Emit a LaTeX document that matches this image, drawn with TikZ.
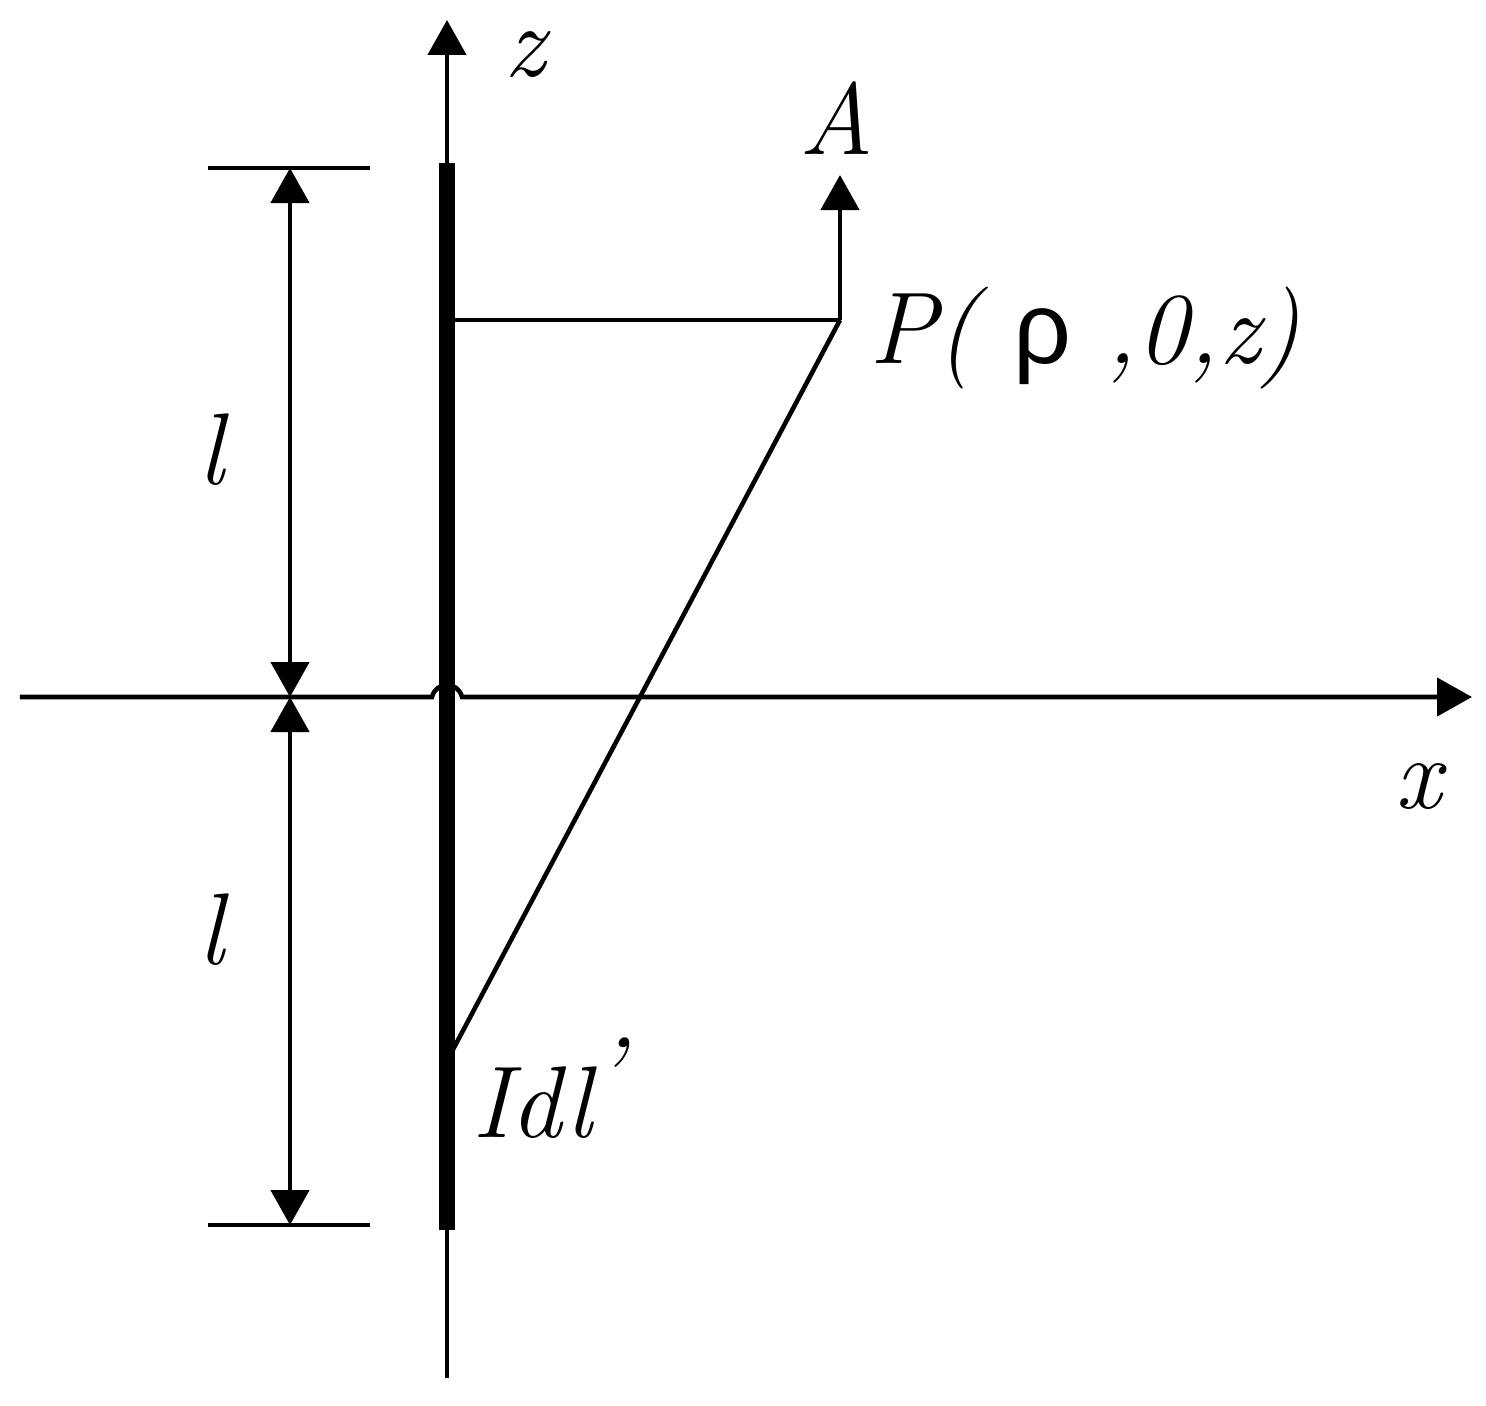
\documentclass[tikz,border=0pt]{standalone}
\usepackage{fontspec}
\newfontfamily\rhofont{Liberation Sans}
\usetikzlibrary{arrows.meta}
\usetikzlibrary{positioning}

\begin{document}
\begin{tikzpicture}[line width = 1.3pt,
  tip/.style = {-{Triangle[length = 3.5mm, width = 3.8mm]}},
  dim/.style = {{Triangle[length = 3.5mm, width = 3.8mm]}-{Triangle[length = 3.5mm, width = 3.8mm]}},
  lbl/.style = {font = \fontsize{29}{34}\selectfont\itshape, inner sep = 0pt}]
\useasboundingbox (-4.47, -7.08) rectangle (10.39, 6.97);

\coordinate (O) at (0, 0);
\coordinate (zB) at (0, -6.81);
\coordinate (zT) at (0, 6.77);
\coordinate (xL) at (-4.27, 0);
\coordinate (xR) at (10.25, 0);
\coordinate (hL) at (-0.15, 0);
\coordinate (hR) at (0.15, 0);
\draw[tip] (zB) -- (zT);
\draw[tip] (xL) -- (hL) .. controls (-0.11, 0.16) and (0.11, 0.16) .. (hR) -- (xR);

% wire
\coordinate (wT) at (0, 5.34);
\coordinate (wB) at (0, -5.33);
\draw[line width = 4.3pt] (wT) -- (wB);

% length marks
\coordinate (tL) at (-2.39, 5.29);
\coordinate (tR) at (-0.77, 5.29);
\coordinate (bL) at (-2.39, -5.28);
\coordinate (bR) at (-0.77, -5.28);
\draw (tL) -- (tR);
\draw (bL) -- (bR);
\coordinate (dT) at (-1.57, 5.29);
\coordinate (dM) at (-1.57, 0);
\coordinate (dB) at (-1.57, -5.28);
\draw[dim] (dT) -- (dM);
\draw[dim] (dM) -- (dB);
\node[lbl] (l1) at (-2.36, 2.47) {l};
\node[lbl] (l2) at (-2.36, -2.33) {l};

% field point
\coordinate (P) at (3.93, 3.77);
\coordinate (Pz) at (0, 3.77);
\coordinate (Q) at (0.02, -3.6);
\coordinate (At) at (3.93, 5.22);
\draw (Pz) -- (P);
\draw (P) -- (Q);
\draw[tip] (P) -- (At);

\node[lbl] (Alab) at (3.90, 5.79) {A};
\node[lbl, anchor = base west] (Plab) at (4.20, 3.34) {P( {\upshape\rhofont ρ} ,0,z)};
\node[lbl, anchor = base west] (Ilab) at (0.23, -4.40) {Idl\raisebox{0.28em}{’}};
\node[lbl] (zlab) at (0.78, 6.42) {z};
\node[lbl] (xlab) at (9.71, -0.90) {x};

\end{tikzpicture}
\end{document}
